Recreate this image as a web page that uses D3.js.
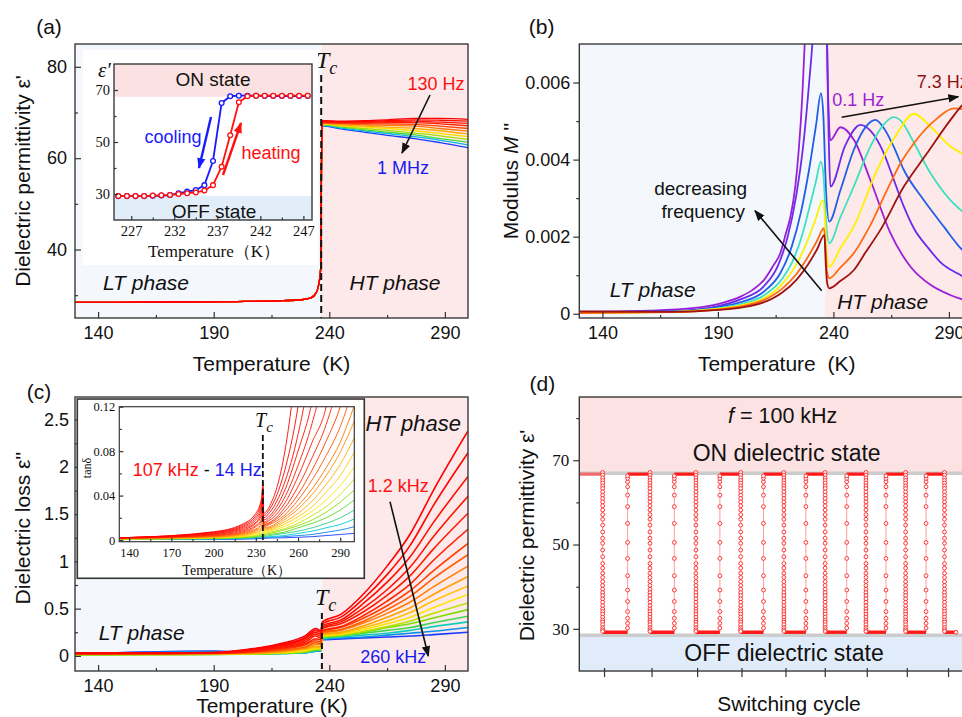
<!DOCTYPE html>
<html>
<head>
<meta charset="utf-8">
<script src="https://cdn.jsdelivr.net/npm/d3@7/dist/d3.min.js"></script>
<style>
body { margin: 0; background: #fff; }
svg { display: block; font-family: "Liberation Sans", Arial, sans-serif; }
</style>
</head>
<body>
<script>
// ---------------- (a) permittivity, 130 Hz (red) ... 1 MHz (blue) ----------------
const aTempLow  = [130, 170, 200, 220, 228, 232, 234.3, 235.5, 236.3];
const aEpsLow   = [28.4, 28.5, 28.6, 28.8, 29.0, 29.4, 30.5, 32.5, 36.0];
const aTempHigh = [236.8, 245, 255, 265, 277, 288, 300];
const aEpsHigh = [
  [68.2, 68.1, 68.2, 68.4, 68.7, 68.7, 68.5],
  [68.1, 68.0, 68.0, 68.2, 68.4, 68.3, 68.1],
  [68.0, 67.9, 67.9, 68.0, 68.1, 67.9, 67.6],
  [67.9, 67.8, 67.7, 67.8, 67.8, 67.5, 67.1],
  [67.8, 67.6, 67.5, 67.5, 67.4, 67.0, 66.5],
  [67.7, 67.5, 67.3, 67.2, 67.0, 66.5, 65.9],
  [67.6, 67.3, 67.0, 66.8, 66.5, 66.0, 65.3],
  [67.5, 67.1, 66.8, 66.5, 66.0, 65.4, 64.7],
  [67.4, 67.0, 66.5, 66.1, 65.5, 64.9, 64.1],
  [67.3, 66.8, 66.2, 65.7, 65.1, 64.3, 63.5],
  [67.2, 66.6, 66.0, 65.4, 64.7, 63.9, 62.9],
  [67.1, 66.4, 65.7, 65.0, 64.3, 63.4, 62.3]
];
// inset: heating / cooling loop
const loopTemp = [225.5, 226.5, 227.5, 228.5, 229.5, 230.5, 231.5, 232.5, 233.5, 234.5, 235.5, 236.5,
                  237.5, 238.5, 239.5, 240.5, 241.5, 242.5, 243.5, 244.5, 245.5, 246.5, 247.5];
const heating = [29.2, 29.2, 29.2, 29.2, 29.4, 29.5, 29.6, 30.0, 30.3, 30.6, 31.3, 33.4,
                 40.5, 52.6, 65.3, 67.6, 67.8, 67.8, 67.8, 67.8, 67.8, 67.8, 67.8];
const cooling = [29.2, 29.2, 29.2, 29.2, 29.3, 29.4, 29.6, 30.3, 30.9, 31.5, 33.4, 42.7,
                 65.0, 67.6, 67.8, 67.8, 67.8, 67.7, 67.7, 67.7, 67.7, 67.7, 67.7];

// ---------------- (b) electric modulus M'' (units of 1e-3) ----------------
const mod01 = [[130,0.05],[160,0.08],[180,0.15],[190,0.25],[200,0.45],[205,0.62],[210,0.88],[214,1.25],[217,1.57],[219.5,2.1],[221.4,2.52],[223.5,3.3],[225,4.25],[226.5,5.6],[228,7.6],[229,9],[236.2,9.5],[237.8,5.5],[238.6,4.5],[243,4.84],[249,4.5],[256,3.47],[264.7,2.09],[273.4,1.22],[282,0.75],[290,0.5],[300,0.3]];
const mod02 = [[130,0.04],[170,0.07],[190,0.2],[200,0.38],[210,0.72],[216,1.25],[220,1.95],[224,3.1],[227,4.4],[229.5,6.0],[231.3,7.4],[232.5,9],[236.4,9.5],[238,4.5],[238.7,3.3],[245,4.35],[251.7,4.9],[256,4.75],[261.8,4.17],[266,3.5],[270.5,2.78],[275,2.2],[280.6,1.74],[287,1.3],[293.6,1.05],[300,0.85]];
const mod03 = [[130,0.04],[170,0.06],[190,0.17],[200,0.3],[210,0.58],[217,1.05],[222,1.75],[226,2.65],[229.5,3.75],[232.5,4.9],[234.6,5.72],[235.6,5.2],[236.8,3.2],[238.2,2.39],[243,3.2],[248.8,4.25],[254,4.85],[258.2,5.03],[262,4.8],[266,4.35],[270.5,3.73],[279.1,2.95],[287.8,2.26],[295.9,1.65],[300,1.45]];
const mod04 = [[130,0.03],[170,0.05],[190,0.14],[200,0.25],[210,0.48],[218,0.92],[223,1.45],[227,2.15],[230,2.85],[232.5,3.45],[234.6,3.95],[235.7,3.6],[236.8,2.4],[238.2,1.83],[243,2.5],[248.8,3.3],[256,4.34],[261,4.85],[266.1,5.1],[270,4.95],[273.4,4.6],[282,3.65],[289.3,3.04],[295.9,2.65],[300,2.45]];
const mod05 = [[130,0.02],[170,0.05],[190,0.13],[200,0.22],[210,0.4],[218,0.78],[224,1.28],[228,1.78],[232,2.4],[235.5,2.95],[236.4,2.4],[237,1.6],[238.2,1.22],[243,1.7],[248.8,2.26],[258.9,3.73],[267.6,4.68],[274.8,5.19],[282,4.86],[290.7,4.34],[295.9,4.15],[300,3.95]];
const mod06 = [[130,0.02],[170,0.04],[190,0.11],[200,0.19],[210,0.36],[218,0.66],[224,1.03],[229,1.48],[233,1.9],[235.9,2.22],[236.6,1.7],[237.2,1.1],[238.2,0.92],[243,1.2],[248.8,1.57],[256,2.3],[263.2,3.21],[269,3.9],[274.8,4.42],[284.9,5.07],[292.1,5.33],[297,5.3],[300,5.25]];
const mod07 = [[130,0.06],[170,0.05],[190,0.1],[200,0.16],[210,0.3],[218,0.56],[224,0.88],[229,1.28],[233,1.68],[236.1,2.04],[236.7,1.3],[237.3,0.8],[238.2,0.66],[243,0.85],[248.8,1.13],[254,1.6],[260.3,2.17],[270.5,3.3],[280.6,4.17],[290.7,5.03],[295.9,5.42],[300,5.6]];
const modSeries = [mod01, mod02, mod03, mod04, mod05, mod06, mod07];
const modColors = ["#9b1fd6", "#6b2bea", "#1f5ee8", "#3fe0bf", "#fff000", "#ff6a10", "#a01212"];

// ---------------- (c) dielectric loss, 1.2 kHz (red) ... 260 kHz (blue) ----------------
const cTempLow = [130, 170, 190, 205, 219, 230, 234, 236.4];
const cLossLow = [
  [0.030, 0.030, 0.035, 0.070, 0.13, 0.22, 0.29, 0.27],
  [0.030, 0.030, 0.034, 0.065, 0.12, 0.20, 0.27, 0.25],
  [0.028, 0.030, 0.033, 0.060, 0.11, 0.19, 0.25, 0.23],
  [0.027, 0.028, 0.032, 0.055, 0.10, 0.17, 0.23, 0.21],
  [0.026, 0.027, 0.031, 0.050, 0.09, 0.15, 0.21, 0.19],
  [0.025, 0.026, 0.030, 0.045, 0.08, 0.13, 0.18, 0.17],
  [0.024, 0.025, 0.028, 0.040, 0.07, 0.12, 0.16, 0.15],
  [0.022, 0.024, 0.027, 0.036, 0.06, 0.10, 0.14, 0.13],
  [0.020, 0.022, 0.025, 0.032, 0.05, 0.09, 0.12, 0.12],
  [0.018, 0.020, 0.023, 0.030, 0.045, 0.08, 0.10, 0.10],
  [0.016, 0.018, 0.021, 0.027, 0.040, 0.07, 0.09, 0.09],
  [0.015, 0.016, 0.019, 0.025, 0.035, 0.06, 0.08, 0.08],
  [0.014, 0.015, 0.018, 0.022, 0.030, 0.05, 0.07, 0.07],
  [0.013, 0.014, 0.016, 0.020, 0.028, 0.045, 0.065, 0.066],
  [0.012, 0.013, 0.015, 0.018, 0.025, 0.040, 0.060, 0.062],
  [0.012, 0.020, 0.030, 0.020, 0.022, 0.035, 0.055, 0.060],
  [0.015, 0.040, 0.045, 0.030, 0.025, 0.035, 0.050, 0.058],
  [0.020, 0.045, 0.050, 0.035, 0.030, 0.035, 0.050, 0.055]
];
const cTempHigh = [237, 245, 255, 265, 275, 285, 300];
const cLossHigh = [
  [0.36, 0.44, 0.66, 0.95, 1.29, 1.75, 2.38],
  [0.34, 0.41, 0.61, 0.86, 1.17, 1.59, 2.15],
  [0.32, 0.38, 0.56, 0.78, 1.05, 1.41, 1.90],
  [0.30, 0.36, 0.51, 0.70, 0.94, 1.26, 1.69],
  [0.29, 0.34, 0.47, 0.64, 0.85, 1.13, 1.51],
  [0.27, 0.31, 0.43, 0.58, 0.76, 1.01, 1.34],
  [0.26, 0.30, 0.40, 0.53, 0.69, 0.90, 1.19],
  [0.25, 0.28, 0.37, 0.49, 0.63, 0.82, 1.07],
  [0.24, 0.27, 0.35, 0.45, 0.57, 0.73, 0.95],
  [0.23, 0.25, 0.32, 0.41, 0.51, 0.65, 0.84],
  [0.22, 0.24, 0.30, 0.37, 0.46, 0.58, 0.74],
  [0.21, 0.23, 0.28, 0.34, 0.41, 0.51, 0.65],
  [0.20, 0.22, 0.26, 0.31, 0.37, 0.45, 0.56],
  [0.195, 0.22, 0.25, 0.30, 0.34, 0.40, 0.49],
  [0.19, 0.21, 0.24, 0.27, 0.30, 0.35, 0.42],
  [0.18, 0.20, 0.22, 0.24, 0.27, 0.31, 0.36],
  [0.175, 0.19, 0.20, 0.22, 0.24, 0.26, 0.30],
  [0.17, 0.18, 0.19, 0.20, 0.21, 0.225, 0.25]
];
// inset: tan(delta), 107 kHz (red) ... 14 Hz (blue)
const tTempLow = [133, 200, 220, 230, 234, 235.2];
const tanLow = [
  [0.002, 0.0075, 0.014, 0.024, 0.037, 0.052],
  [0.002, 0.007, 0.013, 0.022, 0.034, 0.047],
  [0.002, 0.0065, 0.012, 0.020, 0.031, 0.042],
  [0.002, 0.006, 0.011, 0.018, 0.028, 0.037],
  [0.002, 0.0055, 0.010, 0.016, 0.025, 0.033],
  [0.0018, 0.005, 0.009, 0.015, 0.022, 0.029],
  [0.0017, 0.0045, 0.008, 0.013, 0.019, 0.025],
  [0.0016, 0.004, 0.007, 0.012, 0.017, 0.022],
  [0.0015, 0.0036, 0.0063, 0.010, 0.015, 0.019],
  [0.0014, 0.0032, 0.0056, 0.009, 0.013, 0.016],
  [0.0013, 0.0028, 0.005, 0.008, 0.011, 0.014],
  [0.0012, 0.0025, 0.0044, 0.007, 0.0095, 0.012],
  [0.0011, 0.0022, 0.0038, 0.006, 0.008, 0.010],
  [0.001, 0.002, 0.0033, 0.005, 0.007, 0.0085],
  [0.001, 0.0018, 0.0028, 0.0042, 0.0058, 0.007],
  [0.0009, 0.0016, 0.0024, 0.0035, 0.0048, 0.0058],
  [0.0008, 0.0014, 0.002, 0.0029, 0.0039, 0.0047],
  [0.0007, 0.0012, 0.0017, 0.0024, 0.0032, 0.0038],
  [0.0006, 0.001, 0.0014, 0.002, 0.0026, 0.003],
  [0.0005, 0.0008, 0.0011, 0.0016, 0.002, 0.0024],
  [0.0004, 0.0006, 0.0008, 0.0011, 0.0014, 0.0017]
];
const tTempHigh = [235.6, 240, 250, 260, 270, 280, 290, 300];
const tanHigh = [
  [0.024, 0.031, 0.075, 0.17, 0.30, 0.50, 0.80, 1.20],
  [0.022, 0.028, 0.060, 0.12, 0.22, 0.38, 0.60, 0.90],
  [0.020, 0.025, 0.050, 0.095, 0.165, 0.28, 0.45, 0.70],
  [0.018, 0.022, 0.043, 0.080, 0.125, 0.21, 0.34, 0.52],
  [0.016, 0.020, 0.037, 0.067, 0.105, 0.16, 0.26, 0.40],
  [0.015, 0.018, 0.032, 0.057, 0.088, 0.12, 0.20, 0.30],
  [0.014, 0.016, 0.028, 0.048, 0.074, 0.104, 0.15, 0.23],
  [0.013, 0.015, 0.025, 0.041, 0.063, 0.089, 0.12, 0.17],
  [0.012, 0.014, 0.022, 0.036, 0.054, 0.076, 0.102, 0.14],
  [0.011, 0.012, 0.020, 0.031, 0.046, 0.065, 0.088, 0.121],
  [0.010, 0.011, 0.018, 0.028, 0.041, 0.058, 0.079, 0.107],
  [0.009, 0.010, 0.016, 0.024, 0.035, 0.050, 0.068, 0.092],
  [0.008, 0.009, 0.014, 0.021, 0.030, 0.043, 0.058, 0.079],
  [0.007, 0.008, 0.012, 0.018, 0.026, 0.036, 0.049, 0.066],
  [0.006, 0.007, 0.010, 0.015, 0.022, 0.030, 0.041, 0.055],
  [0.005, 0.006, 0.009, 0.013, 0.018, 0.025, 0.034, 0.045],
  [0.004, 0.005, 0.007, 0.011, 0.015, 0.020, 0.027, 0.036],
  [0.003, 0.004, 0.006, 0.008, 0.011, 0.015, 0.020, 0.027],
  [0.0025, 0.003, 0.004, 0.006, 0.008, 0.011, 0.014, 0.019],
  [0.002, 0.0025, 0.003, 0.004, 0.005, 0.007, 0.009, 0.012],
  [0.0015, 0.0018, 0.002, 0.0025, 0.003, 0.004, 0.005, 0.006]
];

// ---------------- (d) switching at 100 kHz ----------------
const dropTimes = [5.95, 18.0, 29.7, 41.1, 52.1, 62.6, 73.0, 83.1, 93.0];
const riseTimes = [12.3, 24.2, 35.8, 46.9, 57.7, 68.1, 78.1, 88.3];
const endTime = 95.9;
const cycleTicks = [6.3, 18.4, 30.0, 41.3, 52.5, 62.5, 73.2, 83.4, 93.9];
const onLevel = 66.7, offLevel = 29.2;
const onLine = 66.9, offLine = 28.5;
const dropProfile = [67.1, 66.5, 65.8, 65.2, 64.6, 63.9, 63.3, 62.5, 61.7, 60.9, 60.1, 59.2, 58.2, 57.1, 56.0,
  54.6, 53.0, 51.5, 50.3, 48.7, 47.1, 45.5, 44.4, 43.2, 42.2, 41.2, 40.3, 39.4, 38.6, 37.9, 37.1, 36.3,
  35.5, 34.7, 34.1, 33.5, 32.8, 32.1, 31.6, 31.0, 30.3, 29.8, 29.4];
const riseProfile = [30.2, 31.3, 32.5, 34.1, 36.5, 39.2, 42.6, 46.7, 50.5, 55.0, 59.0, 61.7, 63.7, 64.9, 65.7, 66.3];

// ---------------- drawing ----------------
const svg = d3.select("body").append("svg").attr("width", 962).attr("height", 717);
const defs = svg.append("defs");
const SERIF = "'Liberation Serif', 'Times New Roman', serif";
const SANS = "'Liberation Sans', Arial, sans-serif";

function clip(id, r) {
  defs.append("clipPath").attr("id", id).append("rect")
    .attr("x", r[0]).attr("y", r[1]).attr("width", r[2] - r[0]).attr("height", r[3] - r[1]);
  return "url(#" + id + ")";
}
function marker(id, color) {
  defs.append("marker").attr("id", id).attr("viewBox", "0 0 10 10").attr("refX", 9).attr("refY", 5)
    .attr("markerWidth", 11).attr("markerHeight", 11).attr("markerUnits", "userSpaceOnUse").attr("orient", "auto")
    .append("path").attr("d", "M0,1.2L10,5L0,8.8Z").attr("fill", color);
}
marker("ak", "#111"); marker("ab", "#1a1aff"); marker("ar", "#ff1010");

function arrow(g, x1, y1, x2, y2, color, id, w) {
  g.append("line").attr("x1", x1).attr("y1", y1).attr("x2", x2).attr("y2", y2)
    .attr("stroke", color).attr("stroke-width", w).attr("marker-end", "url(#" + id + ")");
}
function label(g, x, y, txt, opt) {
  opt = opt || {};
  return g.append("text").attr("x", x).attr("y", y).attr("dy", opt.dy || "0.35em")
    .attr("text-anchor", opt.anchor || "middle").attr("font-size", opt.size || 18)
    .attr("font-family", opt.font || SANS).attr("font-style", opt.italic ? "italic" : null)
    .attr("fill", opt.color || "#111").text(txt);
}
function axis(g, orient, scale, vals, size, pad, fmt, pos, font, fs) {
  const gen = (orient === "b" ? d3.axisBottom : d3.axisLeft)(scale)
    .tickValues(vals).tickSize(size).tickPadding(pad).tickFormat(fmt);
  const ag = g.append("g")
    .attr("transform", orient === "b" ? "translate(0," + pos + ")" : "translate(" + pos + ",0)")
    .call(gen);
  ag.select(".domain").remove();
  ag.attr("font-family", font || SANS).attr("font-size", fs || 18);
  ag.selectAll("line").attr("stroke", "#333").attr("stroke-width", 1.2);
  ag.selectAll("text").attr("fill", "#111");
  return ag;
}
function frame(g, x, y, w) {
  g.append("rect").attr("x", x.range()[0]).attr("y", y.range()[1])
    .attr("width", x.range()[1] - x.range()[0]).attr("height", y.range()[0] - y.range()[1])
    .attr("fill", "none").attr("stroke", "#3a3a3a").attr("stroke-width", w || 1.4);
}
function band(g, x, y, x0, x1, y0, y1, color) {
  g.append("rect").attr("x", x(x0)).attr("y", y(y1)).attr("width", x(x1) - x(x0))
    .attr("height", y(y0) - y(y1)).attr("fill", color);
}
function yTitle(g, x, y, txt, size) {
  return g.append("text").attr("transform", "translate(" + x + "," + y + ") rotate(-90)")
    .attr("text-anchor", "middle").attr("font-size", size || 21).attr("fill", "#111").text(txt);
}
function tc(g, x, y, big, small) {
  const t = g.append("text").attr("x", x).attr("y", y).attr("font-family", SERIF)
    .attr("font-style", "italic").attr("font-size", big).attr("fill", "#111").text("T");
  t.append("tspan").attr("dx", 0).attr("dy", big * 0.27).attr("font-size", small).text("c");
}
const rainbow = d3.scaleLinear()
  .domain([0, 0.3, 0.5, 0.65, 0.78, 0.9, 1])
  .range(["#ff0000", "#ff2200", "#ff9000", "#ffe600", "#66dd00", "#00ccdd", "#1a3cff"]);

function fan(g, x, y, rows, width) {
  const line = d3.line().x(d => x(d[0])).y(d => y(d[1])).curve(d3.curveMonotoneX);
  const n = rows.length;
  const items = rows.map((s, i) => ({ s: s, i: i })).reverse();
  g.selectAll(null).data(items).enter().append("path")
    .attr("d", d => line(d.s)).attr("fill", "none")
    .attr("stroke", d => rainbow(d.i / (n - 1))).attr("stroke-width", width);
}
const LT_BG = "#f4f8fd", HT_BG = "#fde9e9";

// ===== panel (a) =====
{
  const g = svg.append("g");
  const x = d3.scaleLinear().domain([130, 300]).range([75, 468]);
  const y = d3.scaleLinear().domain([25, 85]).range([318, 44]);
  band(g, x, y, 130, 236.9, 25, 85, LT_BG);
  band(g, x, y, 236.9, 300, 25, 85, HT_BG);
  const rows = aEpsHigh.map(r => aTempLow.map((t, j) => [t, aEpsLow[j]]).concat(aTempHigh.map((t, j) => [t, r[j]])));
  fan(g.append("g").attr("clip-path", clip("ca", [75, 44, 468, 318])), x, y, rows, 1.3);
  g.append("line").attr("x1", x(236.5)).attr("x2", x(236.5)).attr("y1", 75).attr("y2", 318)
    .attr("stroke", "#111").attr("stroke-width", 2).attr("stroke-dasharray", "7,4");
  tc(g, 316, 68, 24, 18);
  axis(g, "b", x, [140, 190, 240, 290], -6, 8, d3.format("d"), 318);
  axis(g, "b", x, [165, 215, 265], -3, 0, "", 318);
  axis(g, "l", y, [40, 60, 80], -6, 8, d3.format("d"), 75);
  axis(g, "l", y, [30, 50, 70], -3, 0, "", 75);
  frame(g, x, y);
  label(g, 436, 84, "130 Hz", { color: "#ff1010" });
  label(g, 403, 168, "1 MHz", { color: "#1a1aee" });
  arrow(g, 430, 95, 402, 153, "#111", "ak", 1.6);
  label(g, 146, 283, "LT phase", { italic: true, size: 21 });
  label(g, 395, 283, "HT phase", { italic: true, size: 21 });
  label(g, 49, 27, "(a)", { size: 21 });
  label(g, 271.5, 364, "Temperature  (K)", { size: 21, dy: 0 }).style("white-space", "pre");
  yTitle(g, 29.5, 181, "Dielectric permittivity ε'");

  // inset
  g.append("rect").attr("x", 83).attr("y", 50).attr("width", 235).attr("height", 215).attr("fill", "#fff");
  const xi = d3.scaleLinear().domain([225, 248]).range([114, 312]);
  const yi = d3.scaleLinear().domain([20, 80]).range([220, 64]);
  band(g, xi, yi, 225, 248, 67.4, 80, "#fbe1e1");
  band(g, xi, yi, 225, 248, 20, 29.3, "#e1edf9");
  label(g, 213, 79, "ON state", { size: 19 });
  label(g, 214, 211, "OFF state", { size: 19 });
  const ig = g.append("g").attr("clip-path", clip("cai", [114, 64, 312, 220]));
  const lin = d3.line().x(d => xi(d[0])).y(d => yi(d[1]));
  [[cooling, "#1a1aff"], [heating, "#ff1010"]].forEach(([vals, col]) => {
    const pts = loopTemp.map((t, i) => [t, vals[i]]);
    ig.append("path").attr("d", lin(pts)).attr("fill", "none").attr("stroke", col).attr("stroke-width", 1.8);
    ig.selectAll(null).data(pts).enter().append("circle")
      .attr("cx", d => xi(d[0])).attr("cy", d => yi(d[1])).attr("r", 2.4)
      .attr("fill", "#fff").attr("stroke", col).attr("stroke-width", 1.3);
  });
  axis(g, "b", xi, [227, 232, 237, 242, 247], -4, 6, d3.format("d"), 220, SERIF, 14.5);
  axis(g, "b", xi, [229.5, 234.5, 239.5, 244.5], -2.5, 0, "", 220, SERIF, 14.5);
  axis(g, "l", yi, [30, 50, 70], -4, 4, d3.format("d"), 114, SERIF, 14.5);
  axis(g, "l", yi, [40, 60], -2.5, 0, "", 114, SERIF, 14.5);
  frame(g, xi, yi, 1.4);
  label(g, 173, 137, "cooling", { color: "#1a1aff" });
  label(g, 271, 153, "heating", { color: "#ff1010" });
  arrow(g, 211, 117, 199, 168, "#1a1aff", "ab", 2.4);
  arrow(g, 223, 175, 241, 123, "#ff1010", "ar", 2.4);
  label(g, 98, 70, "ε′", { font: SERIF, italic: true, size: 21, anchor: "start", dy: 0 });
  label(g, 214, 251, "Temperature（K）", { font: SERIF, size: 17 });
}

// ===== panel (b) =====
{
  const g = svg.append("g");
  const x = d3.scaleLinear().domain([130, 300]).range([579.3, 972]);
  const y = d3.scaleLinear().domain([-0.11, 7]).range([318, 44]);
  band(g, x, y, 130, 236.2, -0.11, 7, LT_BG);
  band(g, x, y, 236.2, 300, -0.11, 7, HT_BG);
  const cg = g.append("g").attr("clip-path", clip("cb", [579.3, 44, 972, 318]));
  const line = d3.line().x(d => x(d[0])).y(d => y(d[1])).curve(d3.curveMonotoneX);
  modSeries.forEach((s, i) => {
    cg.append("path").attr("d", line(s)).attr("fill", "none")
      .attr("stroke", modColors[i]).attr("stroke-width", 1.8);
  });
  const fmt = d => d === 0 ? "0" : (d / 1000).toFixed(3);
  axis(g, "b", x, [140, 190, 240, 290], -6, 8, d3.format("d"), 318);
  axis(g, "b", x, [165, 215, 265], -3, 0, "", 318);
  axis(g, "l", y, [0, 2, 4, 6], 6, 3, fmt, 579.3);
  axis(g, "l", y, [1, 3, 5], 3, 0, "", 579.3);
  frame(g, x, y);
  label(g, 541.7, 27, "(b)", { size: 21 });
  label(g, 858.3, 99.3, "0.1 Hz", { color: "#9b1fd6" });
  label(g, 916.7, 81.7, "7.3 Hz", { color: "#8b1414", anchor: "start" });
  arrow(g, 841.7, 117.3, 958.3, 96.7, "#111", "ak", 1.6);
  label(g, 700.7, 188.3, "decreasing", { size: 19 });
  label(g, 703.3, 211.7, "frequency", { size: 19 });
  arrow(g, 821.7, 290.7, 755, 210.7, "#111", "ak", 1.6);
  label(g, 652.7, 289.3, "LT phase", { italic: true, size: 21 });
  label(g, 882.7, 301.7, "HT phase", { italic: true, size: 21 });
  label(g, 776.7, 364, "Temperature  (K)", { size: 21, dy: 0 }).style("white-space", "pre");
  const t = g.append("text").attr("transform", "translate(518.3,181) rotate(-90)")
    .attr("text-anchor", "middle").attr("font-size", 21).attr("fill", "#111");
  t.append("tspan").text("Modulus ");
  t.append("tspan").attr("font-style", "italic").text("M");
  t.append("tspan").text(" ''");
}

// ===== panel (c) =====
{
  const g = svg.append("g");
  const x = d3.scaleLinear().domain([130, 300]).range([75, 468]);
  const y = d3.scaleLinear().domain([-0.16, 2.74]).range([671, 397]);
  band(g, x, y, 130, 236.9, -0.16, 2.74, LT_BG);
  band(g, x, y, 236.9, 300, -0.16, 2.74, HT_BG);
  const rows = cLossLow.map((r, i) => cTempLow.map((t, j) => [t, r[j]]).concat(cTempHigh.map((t, j) => [t, cLossHigh[i][j]])));
  fan(g.append("g").attr("clip-path", clip("cc", [75, 397, 468, 671])), x, y, rows, 1.6);
  g.append("line").attr("x1", x(236.8)).attr("x2", x(236.8)).attr("y1", 613).attr("y2", 671)
    .attr("stroke", "#111").attr("stroke-width", 2).attr("stroke-dasharray", "6,4");
  tc(g, 315, 605, 24, 18);
  axis(g, "b", x, [140, 190, 240, 290], -6, 8, d3.format("d"), 671);
  axis(g, "b", x, [165, 215, 265], -3, 0, "", 671);
  axis(g, "l", y, [0, 0.5, 1, 1.5, 2, 2.5], -6, 6, d => String(d), 75);
  axis(g, "l", y, [0.25, 0.75, 1.25, 1.75, 2.25], -3, 0, "", 75);
  frame(g, x, y);
  label(g, 39, 392, "(c)", { size: 21 });
  label(g, 413.3, 423.3, "HT phase", { italic: true, size: 22 });
  label(g, 398.3, 486, "1.2 kHz", { color: "#ff1010" });
  label(g, 393.3, 656.7, "260 kHz", { color: "#1a1aee" });
  arrow(g, 390, 501.7, 428.3, 656, "#111", "ak", 1.6);
  label(g, 141.7, 632.7, "LT phase", { italic: true, size: 21 });
  label(g, 272, 706, "Temperature (K)", { size: 21, dy: 0 });
  yTitle(g, 30, 528, "Dielectric loss ε''");

  // inset
  g.append("rect").attr("x", 77.3).attr("y", 399).attr("width", 287).attr("height", 179.3)
    .attr("fill", "#fff").attr("stroke", "#333").attr("stroke-width", 1.6);
  const xi = d3.scaleLinear().domain([133, 300]).range([119.3, 354.3]);
  const yi = d3.scaleLinear().domain([-0.0015, 0.12]).range([541.7, 406.7]);
  const irows = tanLow.map((r, i) => tTempLow.map((t, j) => [t, r[j]]).concat(tTempHigh.map((t, j) => [t, tanHigh[i][j]])));
  fan(g.append("g").attr("clip-path", clip("cci", [119.3, 406.7, 354.3, 541.7])), xi, yi, irows, 0.9);
  g.append("line").attr("x1", xi(235)).attr("x2", xi(235)).attr("y1", 435).attr("y2", 541.7)
    .attr("stroke", "#111").attr("stroke-width", 1.8).attr("stroke-dasharray", "6,3");
  tc(g, 255, 426.7, 20, 15);
  axis(g, "b", xi, [140, 170, 200, 230, 260, 290], -4, 6, d3.format("d"), 541.7, SERIF, 12.5);
  axis(g, "b", xi, [155, 185, 215, 245, 275], -2.5, 0, "", 541.7, SERIF, 12.5);
  axis(g, "l", yi, [0, 0.04, 0.08, 0.12], -4, 4, d => d === 0 ? "0" : d.toFixed(2), 119.3, SERIF, 12.5);
  axis(g, "l", yi, [0.02, 0.06, 0.1], -2.5, 0, "", 119.3, SERIF, 12.5);
  frame(g, xi, yi, 1.2);
  const tl = g.append("text").attr("x", 132.7).attr("y", 470).attr("dy", "0.35em").attr("font-size", 18);
  tl.append("tspan").attr("fill", "#ff1010").text("107 kHz");
  tl.append("tspan").attr("fill", "#111").text(" - ");
  tl.append("tspan").attr("fill", "#1a1aee").text("14 Hz");
  label(g, 236.7, 570, "Temperature（K）", { font: SERIF, size: 14 });
  g.append("text").attr("transform", "translate(90.5,468) rotate(-90)").attr("text-anchor", "middle")
    .attr("font-family", SERIF).attr("font-size", 12).attr("fill", "#111").text("tanδ");
}

// ===== panel (d) =====
{
  const g = svg.append("g");
  const x = d3.scaleLinear().domain([0, 100]).range([579.3, 972]);
  const y = d3.scaleLinear().domain([20, 85]).range([671, 397]);
  band(g, x, y, 0, 100, onLine, 85, "#fce2e2");
  band(g, x, y, 0, 100, 20, offLine, "#e0ecf9");
  [onLine, offLine].forEach(v => {
    g.append("line").attr("x1", x(0)).attr("x2", x(100)).attr("y1", y(v)).attr("y2", y(v))
      .attr("stroke", "#cccccc").attr("stroke-width", 3.5);
  });
  // build the measured sequence
  const seq = [[0, onLevel]];
  const pts = [];
  const plateaus = [];
  let tPrev = 0;
  dropTimes.forEach((td, i) => {
    plateaus.push([[tPrev, onLevel], [td, onLevel]]);
    seq.push([td, onLevel]);
    dropProfile.forEach(v => { seq.push([td, v]); pts.push([td, v]); });
    const tr = i < riseTimes.length ? riseTimes[i] : endTime;
    plateaus.push([[td, offLevel], [tr, offLevel]]);
    seq.push([td, offLevel], [tr, offLevel]);
    if (i < riseTimes.length) {
      riseProfile.forEach(v => { seq.push([tr, v]); pts.push([tr, v]); });
      seq.push([tr, onLevel]);
      tPrev = tr;
    } else {
      pts.push([tr, offLevel]);
    }
  });
  const cg = g.append("g").attr("clip-path", clip("cd", [579.3, 397, 972, 671]));
  const lin = d3.line().x(d => x(d[0])).y(d => y(d[1]));
  cg.append("path").attr("d", lin(seq)).attr("fill", "none").attr("stroke", "#ff9a9a").attr("stroke-width", 1);
  plateaus.forEach((p, i) => {
    cg.append("path").attr("d", lin(p)).attr("fill", "none")
      .attr("stroke", i === 0 ? "#f26a6a" : "#ff1a1a").attr("stroke-width", 3.4);
  });
  cg.selectAll(null).data(pts).enter().append("circle")
    .attr("cx", d => x(d[0])).attr("cy", d => y(d[1])).attr("r", 1.9)
    .attr("fill", "#fff").attr("stroke", "#ff2020").attr("stroke-width", 0.9);
  axis(g, "l", y, [30, 50, 70], 6, 4, d3.format("d"), 579.3, SERIF, 17);
  axis(g, "l", y, [40, 60, 80], 3, 0, "", 579.3, SERIF, 17);
  axis(g, "b", x, cycleTicks, 6, 0, "", 671);
  axis(g, "b", x, cycleTicks, -3, 0, "", 671);
  frame(g, x, y);
  label(g, 542.3, 384, "(d)", { size: 21 });
  const f = g.append("text").attr("x", 782.7).attr("y", 415).attr("dy", "0.35em")
    .attr("text-anchor", "middle").attr("font-size", 21.5).attr("fill", "#111");
  f.append("tspan").attr("font-style", "italic").text("f");
  f.append("tspan").text(" = 100 kHz");
  label(g, 786.7, 453.3, "ON dielectric state", { size: 23 });
  label(g, 784, 652.7, "OFF dielectric state", { size: 23 });
  label(g, 789, 704, "Switching cycle", { size: 21, dy: 0 });
  yTitle(g, 534, 535.5, "Dielectric permittivity ε'");
}
</script>
</body>
</html>
